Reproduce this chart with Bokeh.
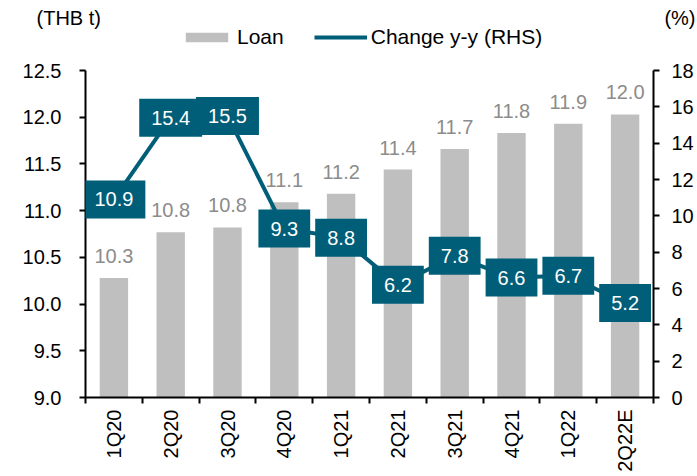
import math
from bokeh.plotting import figure
from bokeh.layouts import column
from bokeh.models import (Range1d, LinearAxis, FixedTicker, ColumnDataSource, LabelSet,
                          Label, Legend, LegendItem, PrintfTickFormatter)
from bokeh.core.properties import value
from bokeh.embed import file_html
from bokeh.resources import INLINE

quarters = ["1Q20", "2Q20", "3Q20", "4Q20", "1Q21", "2Q21", "3Q21", "4Q21", "1Q22", "2Q22E"]
loan = [10.28, 10.77, 10.82, 11.09, 11.18, 11.44, 11.66, 11.83, 11.93, 12.03]
change = [10.9, 15.4, 15.5, 9.3, 8.8, 6.2, 7.8, 6.6, 6.7, 5.2]
left_ticks = [9.0, 9.5, 10.0, 10.5, 11.0, 11.5, 12.0, 12.5]
right_ticks = [0, 2, 4, 6, 8, 10, 12, 14, 16, 18]
series_names = ["Loan", "Change y-y (RHS)"]
left_unit = "(THB t)"
right_unit = "(%)"

FONT = "Liberation Sans"
TEAL = "#005E78"
GRAY = "#BFBFBF"
LBLGRAY = "#8C8C8C"
W = 697
HEAD_H = 56
MAIN_H = 474 - HEAD_H

xs = list(range(len(quarters)))
src = ColumnDataSource(dict(
    x=xs, loan=loan, change=change,
    loan_lbl=[f"{v:.1f}" for v in loan],
))

# ---------- header: unit captions and legend ----------
head = figure(width=W, height=HEAD_H, x_range=Range1d(0, W), y_range=Range1d(HEAD_H, 0),
              output_backend="svg", toolbar_location=None,
              x_axis_location=None, y_axis_location=None,
              min_border_left=0, min_border_right=0, min_border_top=0, min_border_bottom=0)
head.frame_align = False
head.outline_line_color = None
head.xgrid.visible = False
head.ygrid.visible = False
head.add_layout(Label(x=36, y=17, text=left_unit, text_align="left", text_baseline="middle",
                      text_font=FONT, text_font_size="20px", text_color="black"))
head.add_layout(Label(x=695, y=17, text=right_unit, text_align="right", text_baseline="middle",
                      text_font=FONT, text_font_size="20px", text_color="black"))
# legend swatch renderers (kept off-canvas; only their legend swatches show)
lg_bar = head.vbar(x=[-100], top=[0], bottom=[0], width=1, fill_color=GRAY, line_color=None)
lg_line = head.line(x=[-120, -110], y=[0, 0], line_width=4, line_color=TEAL)
legend = Legend(items=[LegendItem(label=series_names[0], renderers=[lg_bar]),
                       LegendItem(label=series_names[1], renderers=[lg_line])],
                orientation="horizontal", location=(180, 7),
                glyph_width=53, glyph_height=12, label_standoff=4, spacing=30,
                padding=0, margin=0, border_line_color=None, background_fill_alpha=0,
                label_text_font=FONT, label_text_font_size="21px", label_text_color="black")
head.add_layout(legend, "center")

# ---------- main chart ----------
p = figure(width=W, height=MAIN_H, x_range=Range1d(-0.5, len(quarters) - 0.5),
           y_range=Range1d(left_ticks[0], left_ticks[-1]),
           output_backend="svg", toolbar_location=None,
           min_border_left=85, min_border_right=44, min_border_top=14, min_border_bottom=77)
p.frame_align = False
p.extra_y_ranges = {"pct": Range1d(right_ticks[0], right_ticks[-1])}
p.outline_line_color = None
p.xgrid.visible = False
p.ygrid.visible = False

bars = p.vbar(x="x", top="loan", bottom=0, width=0.5, source=src,
              fill_color=GRAY, line_color=None)
line = p.line(x="x", y="change", source=src, y_range_name="pct",
              line_width=4, line_color=TEAL)


def style_axis(ax):
    ax.axis_line_width = 2
    ax.axis_line_color = "black"
    ax.major_tick_line_width = 2
    ax.major_tick_line_color = "black"
    ax.major_tick_in = 0
    ax.major_tick_out = 6
    ax.minor_tick_line_color = None
    ax.major_label_text_font = FONT
    ax.major_label_text_font_size = "20px"
    ax.major_label_text_color = "black"


ya = p.yaxis[0]
ya.ticker = FixedTicker(ticks=left_ticks)
ya.formatter = PrintfTickFormatter(format="%.1f")
style_axis(ya)
ya.major_label_standoff = 18

ra = LinearAxis(y_range_name="pct", ticker=FixedTicker(ticks=right_ticks))
style_axis(ra)
ra.major_label_standoff = 12
p.add_layout(ra, "right")

xa = p.xaxis[0]
style_axis(xa)
xa.ticker = FixedTicker(ticks=xs, minor_ticks=[i - 0.5 for i in range(len(quarters) + 1)])
xa.major_label_overrides = {i: q for i, q in enumerate(quarters)}
xa.major_tick_line_color = None
xa.minor_tick_line_color = "black"
xa.minor_tick_line_width = 2
xa.minor_tick_in = 0
xa.minor_tick_out = 6
xa.major_label_orientation = math.pi / 2
xa.major_label_standoff = 6

# bar value labels
p.add_layout(LabelSet(x="x", y="loan", text="loan_lbl", source=src, text_align="center",
                      text_baseline="alphabetic", y_offset=15, text_font=value(FONT),
                      text_font_size=value("20px"), text_color=LBLGRAY))

# line value boxes
for xi, v in zip(xs, change):
    p.add_layout(Label(x=xi, y=v, y_range_name="pct", text=f"{v:.1f}", text_align="center",
                       text_baseline="middle", text_font=FONT, text_font_size="20px",
                       text_color="white", background_fill_color=TEAL, padding=12))

layout = column(head, p, spacing=0)
open("out.html", "w").write(file_html(layout, INLINE))
